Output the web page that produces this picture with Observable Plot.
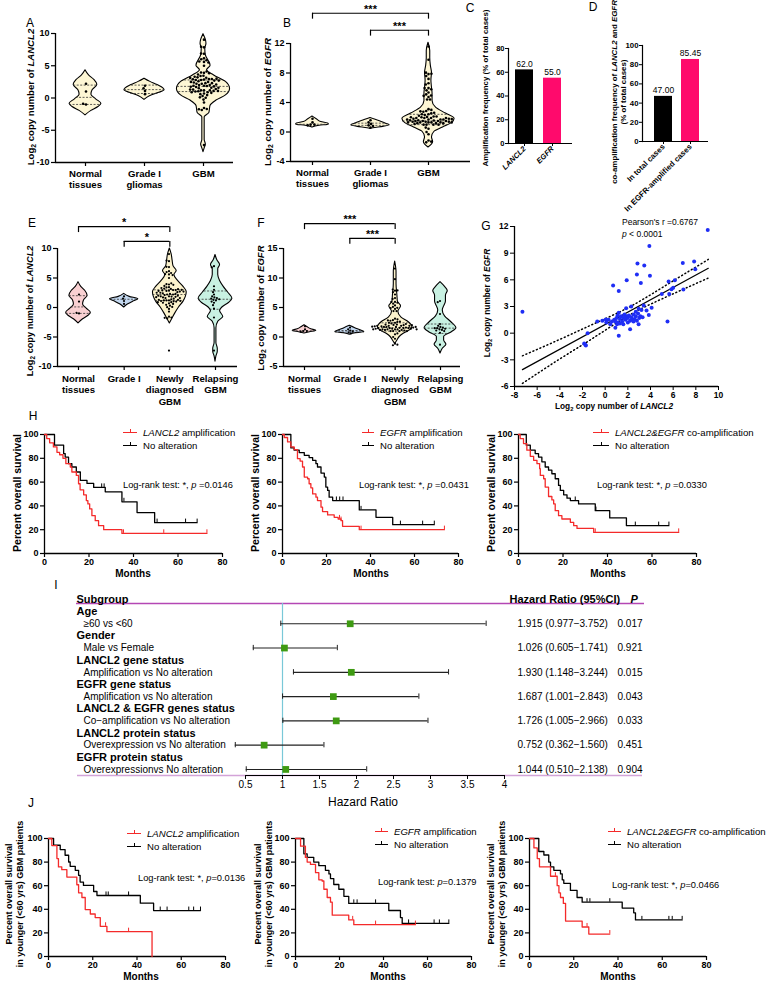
<!DOCTYPE html>
<html><head><meta charset="utf-8">
<script src="https://cdn.jsdelivr.net/npm/d3@7"></script>
<script src="https://cdn.jsdelivr.net/npm/@observablehq/plot@0.6"></script>
<style>
body{margin:0;background:#fff;}
#root{position:relative;width:769px;height:982px;overflow:hidden;font-family:"Liberation Sans",Arial,Helvetica,sans-serif;color:#000;background:#fff;}
.t{position:absolute;white-space:nowrap;line-height:1;}
.yl{position:absolute;white-space:nowrap;font-weight:bold;text-align:center;line-height:1.2;transform:translate(-50%,-50%) rotate(-90deg);}
.s2{font-size:0.7em;vertical-align:-0.3em;line-height:0;}
</style></head><body><div id="root"></div>
<script>
// ---------------- DATA ----------------
const catsA = ["Normal\ntissues", "Grade I\ngliomas", "GBM"];
const catsE = ["Normal\ntissues", "Grade I", "Newly\ndiagnosed\nGBM", "Relapsing\nGBM"];
const normalLANCL2 = [2.2, 1.0, -1.0, -0.9];
const gradeILANCL2 = [1.9, 1.5, 1.1, 0.6];
const normalEGFR = [1.8, 1.3, 1.0, 1.0, 0.9];
const gradeIEGFR = [1.6, 1.3, 1.1, 0.9, 0.8, 0.6];
const relapseLANCL2 = [7.0, 6.8, 3.6, 3.0, 2.6, 2.2, 1.9, 1.7, 1.6, 1.5, 1.4, 1.3, 1.2, 1.0, 0.8, 0.4, -0.2, -1.7, -7.3];
const relapseEGFR = [6.1, 5.9, 3.9, 2.2, 1.9, 1.7, 1.6, 1.5, 1.5, 1.4, 1.3, 1.2, 1.1, 1.0, 0.7, -1.3];
// GBM samples: [LANCL2, EGFR] log2 copy number
const gbmPairs = [
[-7.3,2.4],[9.05,11.6],[3.9,9.8],[2.85,7.85],[3.45,7.6],[2.8,6.6],[3.95,6.45],[1.9,5.95],[3.15,5.65],[0.7,5.35],
[1.2,4.75],[6.85,7.9],[7.85,8.05],[7.95,7.2],[5.6,5.8],[6.15,5.95],[6.0,5.1],[5.85,4.95],[6.9,4.9],[5.65,4.4],
[5.0,4.4],[5.5,1.3],[3.4,3.1],[4.1,2.85],[3.85,2.05],[3.65,2.55],[2.95,2.75],[3.2,2.6],[1.2,-0.3],[2.2,0.45],
[2.95,1.0],[-1.55,0.0],[-1.85,-1.15],[-1.7,-1.4],[-1.75,-1.3],[-0.7,1.3],[-0.25,1.4],[0.05,1.55],[0.3,1.5],[0.45,1.0],
[0.9,0.6],[1.05,1.0],[1.2,2.3],[1.85,2.8],[2.3,3.0],[0.1,1.2],[0.6,1.3],[0.8,1.5],[1.0,1.7],[1.1,1.2],
[1.3,1.6],[1.4,1.9],[1.5,1.3],[1.6,1.7],[1.7,2.1],[1.8,1.5],[1.9,1.9],[2.0,1.2],[2.0,1.7],[2.1,2.0],
[2.2,1.4],[2.3,1.8],[2.4,1.5],[2.5,2.1],[2.6,1.6],[2.7,1.9],[2.8,1.4],[2.9,2.2],[3.0,1.7],[3.1,1.9],
[1.3,1.1],[1.6,1.0],[2.5,1.3],[2.7,2.4],[1.1,2.0],[3.3,1.8],[0.9,1.3],[1.75,1.75]];
// violin outlines: [category, y, half width (fraction of category step)]
const violinA = [
[1,4.3,0],[1,3.5,0.06],[1,2.8,0.15],[1,2.0,0.2],[1,1.2,0.12],[1,0.5,0.1],[1,-0.2,0.18],[1,-0.9,0.27],[1,-1.4,0.22],[1,-2.0,0.1],[1,-2.7,0],
[2,3.0,0],[2,2.5,0.1],[2,2.0,0.22],[2,1.5,0.32],[2,1.2,0.34],[2,0.8,0.25],[2,0.3,0.1],[2,-0.3,0],
[3,9.9,0],[3,9.0,0.04],[3,8.4,0.05],[3,7.6,0.03],[3,6.6,0.04],[3,5.0,0.12],[3,4.3,0.06],[3,3.5,0.18],[3,2.5,0.38],[3,1.4,0.45],[3,0.4,0.38],[3,-0.4,0.22],[3,-1.2,0.12],[3,-1.7,0.11],[3,-2.3,0.1],[3,-3.0,0.02],[3,-6.5,0.02],[3,-7.2,0.04],[3,-7.8,0.02],[3,-8.4,0]];
const quartA = [[1,2.0,0.2],[1,0.1,0.16],[1,-1.0,0.27],[2,2.0,0.22],[2,1.3,0.34],[2,0.7,0.23],[3,2.8,0.32],[3,1.8,0.44],[3,1.0,0.42]];
const violinB = [
[1,2.1,0],[1,1.7,0.08],[1,1.35,0.15],[1,1.1,0.28],[1,1.0,0.28],[1,0.85,0.12],[1,0.6,0],
[2,1.9,0],[2,1.5,0.15],[2,1.1,0.28],[2,0.9,0.33],[2,0.7,0.22],[2,0.5,0.05],[2,0.4,0],
[3,12.1,0],[3,11,0.03],[3,10,0.03],[3,9,0.04],[3,8,0.06],[3,7,0.05],[3,6,0.06],[3,5.2,0.07],[3,4.2,0.07],[3,3.3,0.13],[3,2.5,0.3],[3,1.8,0.45],[3,1.2,0.4],[3,0.6,0.25],[3,0,0.1],[3,-0.7,0.06],[3,-1.4,0.08],[3,-2.1,0]];
const quartB = [[1,1.05,0.28],[2,1.2,0.27],[2,0.9,0.33],[3,2.4,0.32],[3,1.5,0.44],[3,1.0,0.36]];
const violinE = [
[1,4.3,0],[1,3.5,0.06],[1,2.8,0.15],[1,2.0,0.2],[1,1.2,0.12],[1,0.5,0.1],[1,-0.2,0.18],[1,-0.9,0.27],[1,-1.4,0.22],[1,-2.0,0.1],[1,-2.7,0],
[2,2.3,0],[2,1.8,0.12],[2,1.4,0.31],[2,1.0,0.2],[2,0.5,0.08],[2,0.0,0],
[3,10,0],[3,9,0.04],[3,8,0.06],[3,7,0.08],[3,6.2,0.15],[3,5.5,0.1],[3,4.5,0.18],[3,3.5,0.3],[3,2.6,0.37],[3,1.8,0.35],[3,1,0.3],[3,0,0.2],[3,-1,0.12],[3,-2,0.05],[3,-2.7,0],
[4,8.9,0],[4,8,0.04],[4,7.2,0.1],[4,6.5,0.06],[4,5.5,0.06],[4,4.5,0.1],[4,3.5,0.18],[4,2.5,0.28],[4,1.5,0.37],[4,0.8,0.3],[4,0,0.15],[4,-0.6,0.1],[4,-1.6,0.17],[4,-2.4,0.06],[4,-3.5,0.02],[4,-6,0.02],[4,-7,0.05],[4,-7.5,0.05],[4,-8.3,0.02],[4,-9.2,0]];
const quartE = [[1,2.0,0.2],[1,0.1,0.16],[1,-1.0,0.27],[2,1.4,0.3],[3,3.0,0.34],[3,2.2,0.37],[3,1.2,0.31],[4,2.8,0.25],[4,1.4,0.37],[4,-0.3,0.12]];
const violinF = [
[1,2,0],[1,1.7,0.06],[1,1.3,0.15],[1,1.05,0.26],[1,0.8,0.12],[1,0.6,0],
[2,1.9,0],[2,1.5,0.12],[2,1.1,0.25],[2,0.85,0.32],[2,0.6,0.1],[2,0.4,0],
[3,12.8,0],[3,11,0.03],[3,9,0.03],[3,7,0.05],[3,6,0.06],[3,5.2,0.13],[3,4.3,0.07],[3,3.3,0.14],[3,2.5,0.3],[3,1.7,0.38],[3,1.2,0.34],[3,0.5,0.18],[3,0,0.1],[3,-0.6,0.05],[3,-1.2,0],
[4,9.3,0],[4,8.5,0.1],[4,7.8,0.16],[4,7,0.12],[4,6,0.12],[4,5.2,0.08],[4,4.5,0.05],[4,3.5,0.1],[4,2.5,0.24],[4,1.5,0.35],[4,0.8,0.25],[4,0,0.08],[4,-0.6,0.08],[4,-1.3,0.13],[4,-2,0.05],[4,-2.8,0]];
const quartF = [[1,1.05,0.26],[2,1.1,0.25],[2,0.85,0.32],[3,2.4,0.29],[3,1.6,0.38],[3,1.0,0.3],[4,2.2,0.28],[4,1.5,0.35],[4,0.6,0.2]];
// significance brackets: [from, to, level, label]
const bracketsB = [[1,3,16.1,"***"],[2,3,13.8,"***"]];
const bracketsE = [[1,3,13.7,"*"],[2,3,11.2,"*"]];
const bracketsF = [[1,3,19.2,"***"],[2,3,16.7,"***"]];
// C, D bars
const ampGenes = ["LANCL2", "EGFR"];
const ampFreq = [62.0, 55.0];
const coCats = ["In total cases", "In EGFR-amplified cases"];
const coFreq = [47.00, 85.45];
// G regression
const fitLine = [[-7.3,-4.1],[9.1,7.3]];
const ciUpper = [[-7.3,-2.55],[-4,-0.7],[-1,1.05],[2,2.85],[5,5.1],[9.1,8.3]];
const ciLower = [[-7.3,-5.65],[-4,-2.9],[-1,-0.5],[2,1.93],[5,3.85],[9.1,6.2]];
// Kaplan-Meier: [months, % survival]
const h1Amp = [[0,100],[1,96.6],[2.3,93],[4,89.6],[5.6,85],[6.8,83],[8.3,80],[9.6,75.5],[11.6,72.7],[12.3,68.5],[14.3,65.6],[15.3,58.6],[16,53.5],[17.6,49.3],[18.8,44.5],[19.5,41.7],[20.3,37.5],[21.3,31.8],[22.8,27.6],[24.3,23.4],[26.6,20],[34.8,16.9],[73,16.9]];
const h1AmpCens = [[35.5,16.9],[53.6,16.9],[73,16.9]];
const h1No = [[0,100],[4.5,91],[8.6,84],[9.3,81],[10.8,75.5],[12.3,72.7],[14.3,68.5],[16.1,61.4],[19.1,58.9],[22.1,55.5],[27.3,51.8],[34.8,43.4],[41.6,34.4],[49.5,25.9],[68.6,25.9]];
const h1NoCens = [[25.7,55.5],[26.8,55.5],[35.7,43.4],[50.6,25.9],[63.4,25.9],[68.6,25.9]];
const h2Amp = [[0,100],[0.8,97.5],[2.3,93.8],[3.8,89.6],[5.3,87.3],[6.8,79.7],[8,77.7],[9.1,72.7],[9.9,64.2],[11.4,62.8],[12.1,58.6],[12.9,55.2],[13.7,50.1],[15.2,47.3],[15.9,44.5],[17.5,38.9],[18.2,35.2],[20.5,32.4],[23.5,30.4],[25.3,29],[26.6,27.6],[27.3,22.8],[34.9,20],[73.6,20]];
const h2AmpCens = [[25.9,29],[26.6,27.6],[35.7,20],[73.6,20]];
const h2No = [[0,100],[3.8,88.7],[5.3,86.8],[7.6,84.8],[9.9,82.5],[12.1,80.6],[13.7,78.3],[15.2,75.5],[15.9,72.7],[17.5,67.6],[19,64.2],[19.7,55.8],[20.5,53],[21.2,47.3],[22.8,44.5],[34.9,36.6],[42.5,30.4],[50.1,24.2],[69,24.2]];
const h2NoCens = [[24.5,44.5],[26,44.5],[27.5,44.5],[35.7,36.6],[53.6,24.2],[63.7,24.2],[69,24.2]];
const h3Amp = [[0,100],[0.75,96.6],[2.25,92.4],[3.75,86.8],[5.3,81.7],[6.8,78.3],[8.3,75.5],[9.5,71.3],[9.8,65.6],[11.3,62.8],[12,55.8],[13.5,47.9],[15,45],[15.8,41.7],[16.5,36],[18,31.8],[19.5,29],[23.3,26.2],[24.8,23.4],[26.3,21.1],[33.8,17.7],[72,17.7]];
const h3AmpCens = [[34.5,17.7],[72,17.7]];
const h3No = [[0,100],[3.5,91],[5.3,86.8],[7.5,84],[9,81],[10.5,77],[12,72.7],[13.5,70],[15,67],[16.5,62.8],[18,57.2],[18.8,53],[20.3,49.3],[21.8,46.5],[23.3,44.5],[27,41.7],[34.5,36],[41,29.9],[48.5,23.4],[67.6,23.4]];
const h3NoCens = [[25.5,44.5],[34.8,36],[52.5,23.4],[63,23.4],[67.6,23.4]];
const j1Amp = [[0,100],[1.5,94],[3.8,83],[4.5,75.9],[6,73.6],[8.3,67.3],[12.8,60.8],[13.6,54],[15.1,50],[16.6,39.8],[18.9,36],[21.1,33],[23.4,25.6],[26.4,21],[46.8,0]];
const j1AmpCens = [[25.8,25.6],[36.2,21]];
const j1No = [[0,100],[2.3,94.3],[5.3,90.6],[7.5,85.8],[9.1,80.1],[9.8,76.4],[12.1,73],[13.6,68.8],[14.3,63.1],[15.8,60.2],[20.4,55.1],[21.9,51.7],[41.5,45.2],[47.5,38.9],[68.7,38.9]];
const j1NoCens = [[26,51.7],[27,51.7],[36.2,51.7],[50.5,38.9],[53.6,38.9],[63.4,38.9],[65.6,38.9],[68.7,38.9]];
const j2Amp = [[0,100],[2.3,93.5],[4.5,84],[5.3,80],[6.8,78],[9.1,71],[10.6,65],[12.1,64],[12.9,57],[14.4,50],[15.9,46],[16.7,35],[24.2,31],[26.5,27],[54.5,27]];
const j2AmpCens = [[26,31],[36.4,27],[54.5,27]];
const j2No = [[0,100],[3.8,87],[5.3,84],[8.3,80],[10.6,77],[13.6,73],[15.2,70],[15.9,66],[17.4,61],[19.7,57],[22,51],[24.2,45],[42.4,39],[47.7,33],[48.5,28],[69.7,28]];
const j2NoCens = [[26.5,45],[28,45],[36.4,45],[51.4,28],[63,28],[65.4,28],[69.7,28]];
const j3Amp = [[0,100],[2,92],[3.5,83],[4.5,76],[9.5,68],[12.5,60],[13.3,54],[14,50],[15.3,45],[16.3,30],[23.8,25],[26.8,19],[36.3,19]];
const j3AmpCens = [[11.7,68],[26,25],[36.3,19]];
const j3No = [[0,100],[4.2,89],[6.5,86],[8.7,80],[9.5,76],[11,73],[14,70],[14.8,65],[15.5,62],[18.5,56],[21.5,50],[23.8,46],[41.9,41],[47.1,37],[47.9,31],[69,31]];
const j3NoCens = [[26,46],[27.3,46],[36.3,46],[50.8,31],[63,31],[64.5,31],[69,31]];
const kmXTicks = [0, 20, 40, 60, 80];
const kmYTicks = [0, 20, 40, 60, 80, 100];
// Forest plot (I)
const fGroups = ["Age","Gender","LANCL2 gene status","EGFR gene status","LANCL2 & EGFR genes status","LANCL2 protein status","EGFR protein status"];
const fComps = ["≥60 vs <60","Male vs Female","Amplification vs No alteration","Amplification vs No alteration","Co−amplification vs No alteration","Overexpression vs No alteration","Overexpressionvs No alteration"];
const fHR = [1.915, 1.026, 1.930, 1.687, 1.726, 0.752, 1.044];
const fLo = [0.977, 0.605, 1.148, 1.001, 1.005, 0.362, 0.510];
const fHi = [3.752, 1.741, 3.244, 2.843, 2.966, 1.560, 2.138];
const fP = ["0.017","0.921","0.015","0.043","0.033","0.451","0.904"];
const hrTicks = [0.5, 1, 1.5, 2, 2.5, 3, 3.5, 4];

// ---------------- HELPERS ----------------
const root = document.getElementById("root");
const FONT = '"Liberation Sans", Arial, Helvetica, sans-serif';
const RED = "#f42a2a";
function place(el, left, top) {
  el.style.position = "absolute"; el.style.left = left + "px"; el.style.top = top + "px";
  root.appendChild(el); return el;
}
function st(size, weight = "bold") {
  return {fontFamily: FONT, fontSize: size + "px", fontWeight: weight, background: "transparent", overflow: "visible", color: "black"};
}
function T(html, x, y, o = {}) {
  const d = document.createElement("div");
  d.className = "t"; d.innerHTML = html;
  d.style.fontSize = (o.size || 10) + "px";
  if (o.bold) d.style.fontWeight = "bold";
  const ax = o.anchor === "center" ? "-50%" : "0";
  d.style.transform = `translate(${ax},-50%)`;
  d.style.left = x + "px"; d.style.top = y + "px";
  root.appendChild(d); return d;
}
function YL(html, x, y, size) {
  const d = document.createElement("div");
  d.className = "yl"; d.innerHTML = html;
  d.style.fontSize = size + "px"; d.style.left = x + "px"; d.style.top = y + "px";
  root.appendChild(d); return d;
}
const L2 = 'Log<span class="s2">2</span>';
function legendItem(x, y, color, html, textX, size) {
  const sw = document.createElement("div");
  sw.style.cssText = `position:absolute;left:${x}px;top:${y - 0.75}px;width:${textX - x - 6}px;height:0;border-top:1.5px solid ${color}`;
  const tk = document.createElement("div");
  tk.style.cssText = `position:absolute;left:${(textX - x - 6) / 2 - 0.5}px;top:-4px;width:0;height:3px;border-left:1px solid ${color}`;
  sw.appendChild(tk); root.appendChild(sw);
  T(html, textX, y, {size});
}

function violinPanel(cfg) {
  const {left, top, width, height, ml, mr, mt, mb, yDomain, yTicks, centers, cats, outline, quart, fills, dots,
    brackets = [], leg = 0.8, dotR = 1.3, tickFont = 9, catFont = 9.6, catPad = 2} = cfg;
  const n = cats.length;
  const s = (centers[n - 1] - centers[0]) / (n - 1);
  const d0 = 1 + (left + ml - centers[0]) / s;
  const d1 = 1 + (left + width - mr - centers[0]) / s;
  const shapes = outline.map(([c, y, w]) => ({c, y, w}));
  const qs = quart.map(([c, y, w]) => ({c, y, w}));
  const br = brackets.map(([a, b, y, label]) => ({a, b, y, label}));
  const legs = br.flatMap(d => [{x: d.a, y: d.y}, {x: d.b, y: d.y}]);
  const base = Plot.plot({
    width, height, marginLeft: ml, marginRight: mr, marginTop: mt, marginBottom: mb,
    x: {domain: [d0, d1]}, y: {domain: yDomain},
    style: st(tickFont),
    marks: [
      ...fills.map((f, i) => Plot.areaX(shapes.filter(d => d.c === i + 1),
        {y: "y", x1: d => d.c - d.w, x2: d => d.c + d.w, fill: f, stroke: "black", strokeWidth: 1.1, curve: "monotone-y"})),
      Plot.ruleY(qs, {y: "y", x1: d => d.c - d.w, x2: d => d.c + d.w, stroke: "#333", strokeWidth: 0.8, strokeDasharray: "2,1.5"}),
      Plot.ruleX([d0], {stroke: "black", strokeWidth: 1.3}),
      Plot.ruleY([yDomain[0]], {stroke: "black", strokeWidth: 1.3}),
      Plot.axisY({ticks: yTicks, tickSize: 4, tickPadding: 2, tickFormat: d => String(d), label: null, strokeWidth: 1.2}),
      Plot.axisX({ticks: d3.range(1, n + 1), tickFormat: i => cats[i - 1], tickSize: 4, tickPadding: catPad, label: null, fontSize: catFont, lineHeight: 1.2, strokeWidth: 1.2}),
      Plot.ruleY(br, {y: "y", x1: "a", x2: "b", stroke: "black", strokeWidth: 1.2}),
      Plot.ruleX(legs, {x: "x", y1: "y", y2: d => d.y - leg, stroke: "black", strokeWidth: 1.2}),
      Plot.text(br, {x: d => (d.a + d.b) / 2, y: "y", text: "label", dy: -4, fontSize: 11})
    ]
  });
  const dotsPlot = Plot.plot({
    width: n * s, height, marginLeft: 0, marginRight: 0, marginTop: mt, marginBottom: mb,
    fx: {domain: d3.range(1, n + 1), padding: 0, axis: null},
    y: {domain: yDomain, axis: null},
    style: st(tickFont),
    marks: [Plot.dot(dots, Plot.dodgeX({anchor: "middle", padding: 0.35}, {fx: "c", y: "v", r: dotR, fill: "black"}))]
  });
  place(base, left, top);
  place(dotsPlot, centers[0] - s / 2, top);
}

function kmPanel(cfg) {
  const {left, top, width, height, ml, mr, mt, mb, series} = cfg;
  const p = Plot.plot({
    width, height, marginLeft: ml, marginRight: mr, marginTop: mt, marginBottom: mb,
    x: {domain: [0, 80]}, y: {domain: [0, 100]},
    style: st(9),
    marks: [
      Plot.ruleX([0], {strokeWidth: 1.3}), Plot.ruleY([0], {strokeWidth: 1.3}),
      Plot.axisY({ticks: kmYTicks, tickSize: 4, tickPadding: 2, label: null, strokeWidth: 1.2}),
      Plot.axisX({ticks: kmXTicks, tickSize: 4, tickPadding: 1, label: null, strokeWidth: 1.2}),
      ...series.flatMap(({steps, cens, color}) => [
        Plot.line(steps, {x: d => d[0], y: d => d[1], curve: "step-after", stroke: color, strokeWidth: 1.3}),
        Plot.ruleX(cens, {x: d => d[0], y1: d => d[1], y2: d => d[1] + 3, stroke: color, strokeWidth: 1})
      ])
    ]
  });
  place(p, left, top);
}

// ---------------- PANELS A, B ----------------
violinPanel({left: 0, top: 0, width: 245, height: 200, ml: 55, mr: 12, mt: 33, mb: 38,
  yDomain: [-10, 10], yTicks: [-10, -5, 0, 5, 10], centers: [85, 144, 203], cats: catsA,
  outline: violinA, quart: quartA, fills: ["#fdf6d4", "#fdf6d4", "#fdf6d4"],
  dots: [...normalLANCL2.map(v => ({c: 1, v})), ...gradeILANCL2.map(v => ({c: 2, v})), ...gbmPairs.map(d => ({c: 3, v: d[0]}))]});
violinPanel({left: 240, top: 0, width: 240, height: 200, ml: 50, mr: 10, mt: 43, mb: 39,
  yDomain: [-4, 12], yTicks: [-4, 0, 4, 8, 12], centers: [312, 369, 428], cats: catsA,
  outline: violinB, quart: quartB, fills: ["#fdf6d4", "#fdf6d4", "#fdf6d4"], brackets: bracketsB, leg: 0.8,
  dots: [...normalEGFR.map(v => ({c: 1, v})), ...gradeIEGFR.map(v => ({c: 2, v})), ...gbmPairs.map(d => ({c: 3, v: d[1]}))]});

// ---------------- PANELS C, D ----------------
place(Plot.plot({
  width: 90, height: 200, marginLeft: 18, marginRight: 8, marginTop: 48, marginBottom: 57,
  x: {domain: ampGenes, paddingInner: 0.357, paddingOuter: 0.32, align: 0.39},
  y: {domain: [0, 80]},
  color: {domain: ampGenes, range: ["#000000", "#ff0a6c"]},
  style: st(7.5),
  marks: [
    Plot.barY(ampGenes, {x: d => d, y: (d, i) => ampFreq[i], fill: d => d}),
    Plot.text(ampGenes, {x: d => d, y: (d, i) => ampFreq[i], text: (d, i) => ampFreq[i].toFixed(1), dy: -6, fontWeight: "normal", fontSize: 8.5}),
    Plot.frame({anchor: "left", strokeWidth: 1.2}),
    Plot.ruleY([0], {strokeWidth: 1.2}),
    Plot.axisY({ticks: [0, 20, 40, 60, 80], tickSize: 3, tickPadding: 1, label: null}),
    Plot.axisX({tickRotate: -45, tickSize: 3, tickPadding: 1, label: null, fontStyle: "italic"})
  ]
}), 490, 0);
place(Plot.plot({
  width: 169, height: 220, marginLeft: 42, marginRight: 61, marginTop: 45, marginBottom: 79,
  x: {domain: coCats, paddingInner: 0.32, paddingOuter: 0.34, align: 0.58},
  y: {domain: [0, 100]},
  color: {domain: coCats, range: ["#000000", "#ff0a6c"]},
  style: st(7.8),
  marks: [
    Plot.barY(coCats, {x: d => d, y: (d, i) => coFreq[i], fill: d => d}),
    Plot.text(coCats, {x: d => d, y: (d, i) => coFreq[i], text: (d, i) => coFreq[i].toFixed(2), dy: -6, fontWeight: "normal", fontSize: 8.5}),
    Plot.frame({anchor: "left", strokeWidth: 1.2}),
    Plot.ruleY([0], {strokeWidth: 1.2}),
    Plot.axisY({ticks: [0, 20, 40, 60, 80, 100], tickSize: 3, tickPadding: 1, label: null}),
    Plot.axisX({tickRotate: -45, tickSize: 3, tickPadding: 1, label: null})
  ]
}), 600, 0);

// ---------------- PANELS E, F ----------------
violinPanel({left: 0, top: 200, width: 245, height: 210, ml: 57, mr: 8, mt: 48, mb: 44,
  yDomain: [-10, 10], yTicks: [-10, -5, 0, 5, 10], centers: [78, 124, 169, 215], cats: catsE,
  outline: violinE, quart: quartE, fills: ["#f9d0d2", "#c3d8f0", "#fcf3cd", "#c8f1e2"], brackets: bracketsE, leg: 1.0,
  dotR: 1.1, catPad: 3,
  dots: [...normalLANCL2.map(v => ({c: 1, v})), ...gradeILANCL2.map(v => ({c: 2, v})), ...gbmPairs.map(d => ({c: 3, v: d[0]})), ...relapseLANCL2.map(v => ({c: 4, v}))]});
violinPanel({left: 240, top: 200, width: 228, height: 210, ml: 43, mr: 8, mt: 48, mb: 44,
  yDomain: [-5, 15], yTicks: [-5, 0, 5, 10, 15], centers: [304, 350, 394, 440], cats: catsE,
  outline: violinF, quart: quartF, fills: ["#f9d0d2", "#c3d8f0", "#fcf3cd", "#c8f1e2"], brackets: bracketsF, leg: 1.0,
  dotR: 1.1, catPad: 3,
  dots: [...normalEGFR.map(v => ({c: 1, v})), ...gradeIEGFR.map(v => ({c: 2, v})), ...gbmPairs.map(d => ({c: 3, v: d[1]})), ...relapseEGFR.map(v => ({c: 4, v}))]});

// ---------------- PANEL G ----------------
place(Plot.plot({
  width: 299, height: 205, marginLeft: 44, marginRight: 51, marginTop: 26, marginBottom: 19,
  x: {domain: [-8, 10]}, y: {domain: [-6, 12]},
  style: st(8.5),
  marks: [
    Plot.ruleX([-8], {strokeWidth: 1.3}), Plot.ruleY([-6], {strokeWidth: 1.3}),
    Plot.axisX({ticks: d3.range(-8, 11, 2), tickSize: 4, tickPadding: 1, label: null, tickFormat: d => String(d)}),
    Plot.axisY({ticks: d3.range(-6, 13, 3), tickSize: 4, tickPadding: 2, label: null, tickFormat: d => String(d)}),
    Plot.line(ciUpper, {x: d => d[0], y: d => d[1], curve: "natural", strokeWidth: 1.5, strokeDasharray: "1,2.8", strokeLinecap: "round"}),
    Plot.line(ciLower, {x: d => d[0], y: d => d[1], curve: "natural", strokeWidth: 1.5, strokeDasharray: "1,2.8", strokeLinecap: "round"}),
    Plot.line(fitLine, {x: d => d[0], y: d => d[1], strokeWidth: 1.2}),
    Plot.dot(gbmPairs, {x: d => d[0], y: d => d[1], r: 2, fill: "#1f2ef5"})
  ]
}), 470, 200);

// ---------------- PANEL H ----------------
kmPanel({left: 0, top: 410, width: 240, height: 170, ml: 44, mr: 18, mt: 24, mb: 27,
  series: [{steps: h1No, cens: h1NoCens, color: "black"}, {steps: h1Amp, cens: h1AmpCens, color: RED}]});
kmPanel({left: 240, top: 410, width: 236, height: 170, ml: 42, mr: 18, mt: 24, mb: 27,
  series: [{steps: h2No, cens: h2NoCens, color: "black"}, {steps: h2Amp, cens: h2AmpCens, color: RED}]});
kmPanel({left: 476, top: 410, width: 240, height: 170, ml: 42, mr: 20, mt: 24, mb: 27,
  series: [{steps: h3No, cens: h3NoCens, color: "black"}, {steps: h3Amp, cens: h3AmpCens, color: RED}]});

// ---------------- PANEL I (forest) ----------------
const fRows = fGroups.map((g, i) => ({g, comp: fComps[i], hr: fHR[i], lo: fLo[i], hi: fHi[i], p: fP[i], row: 2 * i + 1}));
const fHeader = [{t: "Subgroup", row: -1}];
const fSep = {header: -0.67, bottom: 13.5};
place(Plot.plot({
  width: 769, height: 230, marginLeft: 245, marginRight: 265, marginTop: 19, marginBottom: 35,
  x: {domain: [0.5, 4]}, y: {domain: [-1, 13.5], reverse: true, axis: null},
  style: st(10, "normal"),
  marks: [
    Plot.ruleY([fSep.header], {stroke: "#b447b4", strokeWidth: 1.5, insetLeft: -169, insetRight: -140}),
    Plot.ruleY([fSep.bottom], {stroke: "#d3a3d8", strokeWidth: 1.3, insetLeft: -168, insetRight: -138}),
    Plot.ruleY([fSep.bottom], {stroke: "black", strokeWidth: 1.2}),
    Plot.ruleX([{x: 1, y1: fSep.header, y2: fSep.bottom}], {x: "x", y1: "y1", y2: "y2", stroke: "#79c8d8", strokeWidth: 1.2}),
    Plot.axisX({ticks: hrTicks, tickSize: 4, tickPadding: 1, label: null, tickFormat: d => String(d), fontSize: 10}),
    Plot.ruleY(fRows, {y: "row", x1: "lo", x2: "hi", stroke: "#222", strokeWidth: 1.1}),
    Plot.ruleX(fRows, {x: "lo", y1: d => d.row - 0.22, y2: d => d.row + 0.22, stroke: "#222"}),
    Plot.ruleX(fRows, {x: "hi", y1: d => d.row - 0.22, y2: d => d.row + 0.22, stroke: "#222"}),
    Plot.dot(fRows, {x: "hr", y: "row", symbol: "square", fill: "#3e9a12", r: 3.8}),
    Plot.text(fHeader, {y: "row", text: "t", frameAnchor: "left", dx: -169, textAnchor: "start", fontWeight: "bold", fontSize: 11}),
    Plot.text(fHeader, {y: "row", text: () => "Hazard Ratio (95%CI)", frameAnchor: "right", dx: 5, textAnchor: "start", fontWeight: "bold", fontSize: 11}),
    Plot.text(fHeader, {y: "row", text: () => "P", frameAnchor: "right", dx: 126, textAnchor: "start", fontWeight: "bold", fontStyle: "italic", fontSize: 11}),
    Plot.text(fRows, {y: d => d.row - 1, text: "g", frameAnchor: "left", dx: -169, textAnchor: "start", fontWeight: "bold", fontSize: 11}),
    Plot.text(fRows, {y: "row", text: "comp", frameAnchor: "left", dx: -162, textAnchor: "start", fontSize: 10}),
    Plot.text(fRows, {y: "row", text: d => `${d.hr.toFixed(3)} (${d.lo.toFixed(3)}−${d.hi.toFixed(3)})`, frameAnchor: "right", dx: 13, textAnchor: "start", fontSize: 10}),
    Plot.text(fRows, {y: "row", text: "p", frameAnchor: "right", dx: 113, textAnchor: "start", fontSize: 10})
  ]
}), 0, 580);

// ---------------- PANEL J ----------------
kmPanel({left: 0, top: 820, width: 245, height: 162, ml: 48, mr: 20, mt: 18, mb: 26,
  series: [{steps: j1No, cens: j1NoCens, color: "black"}, {steps: j1Amp, cens: j1AmpCens, color: RED}]});
kmPanel({left: 250, top: 820, width: 240, height: 162, ml: 45, mr: 19, mt: 18, mb: 26,
  series: [{steps: j2No, cens: j2NoCens, color: "black"}, {steps: j2Amp, cens: j2AmpCens, color: RED}]});
kmPanel({left: 490, top: 820, width: 236, height: 162, ml: 39, mr: 20, mt: 18, mb: 26,
  series: [{steps: j3No, cens: j3NoCens, color: "black"}, {steps: j3Amp, cens: j3AmpCens, color: RED}]});

// ---------------- TEXT ----------------
[["A",30,23],["B",287,23],["C",470,8],["D",593,7],["E",32,223],["F",261,223],["G",486,226],["H",33,416],["I",56,585],["J",31,803]]
  .forEach(([l, x, y]) => T(l, x, y, {size: 12, anchor: "center"}));
YL(`${L2} copy number of <i>LANCL2</i>`, 31, 97, 9.6);
YL(`${L2} copy number of <i>EGFR</i>`, 268, 102, 9.8);
YL("Amplification frequency (% of total cases)", 486, 88, 7.9);
YL(`co-amplification frequency of <i>LANCL2</i> and <i>EGFR</i><br>(% of total cases)`, 619, 92, 7.9);
YL(`${L2} copy number of <i>LANCL2</i>`, 31, 311, 9.2);
YL(`${L2} copy number of <i>EGFR</i>`, 261, 308, 9.6);
YL(`${L2} copy number of <i>EGFR</i>`, 488, 303, 8.3);
T(`${L2} copy number of <i>LANCL2</i>`, 614, 406, {size: 8.3, bold: true, anchor: "center"});
T("Pearson's r =0.6767", 622, 222, {size: 8.5});
T("<i>p</i> &lt; 0.0001", 622, 234, {size: 8.5});
[17, 255, 491].forEach(x => YL("Percent overall survival", x, 493, 10.5));
[[133,574],[371,574],[608,574],[141,977],[388,977],[618,977]].forEach(([x, y]) => T("Months", x, y, {size: 10, bold: true, anchor: "center"}));
[15, 264, 497].forEach(x => YL("Percent overall survival<br>in younger (&lt;60 yrs) GBM patients", x, 894, 9));
legendItem(123, 433, RED, "<i>LANCL2</i> amplification", 143, 9.6);
legendItem(123, 446, "black", "No alteration", 143, 9.6);
legendItem(362, 433, RED, "<i>EGFR</i> amplification", 380, 9.6);
legendItem(362, 446, "black", "No alteration", 380, 9.6);
legendItem(593, 433, RED, "<i>LANCL2&amp;EGFR</i> co-amplification", 615, 9.6);
legendItem(593, 446, "black", "No alteration", 615, 9.6);
T("Log-rank test: *, <i>p</i> =0.0146", 123, 486, {size: 9.3});
T("Log-rank test: *, <i>p</i> =0.0431", 359, 486, {size: 9.3});
T("Log-rank test: *, <i>p</i> =0.0330", 597, 486, {size: 9.3});
T("Hazard Ratio", 363, 802, {size: 12, anchor: "center"});
legendItem(127, 834, RED, "<i>LANCL2</i> amplification", 147, 9.6);
legendItem(127, 847, "black", "No alteration", 147, 9.6);
legendItem(375, 832, RED, "<i>EGFR</i> amplification", 394, 9.6);
legendItem(375, 845, "black", "No alteration", 394, 9.6);
legendItem(608, 832, RED, "<i>LANCL2&amp;EGFR</i> co-amplification", 627, 9.6);
legendItem(608, 845, "black", "No alteration", 627, 9.6);
T("Log-rank test: *, <i>p</i>=0.0136", 138, 879, {size: 9.3});
T("Log-rank test: <i>p</i>=0.1379", 378, 883, {size: 9.3});
T("Log-rank test: *, <i>p</i>=0.0466", 612, 886, {size: 9.3});
</script></body></html>
